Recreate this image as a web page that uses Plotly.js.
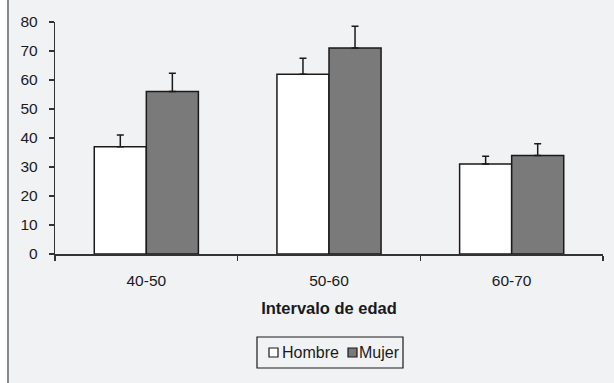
<!DOCTYPE html>
<html><head><meta charset="utf-8">
<script src="https://cdn.plot.ly/plotly-3.0.1.min.js"></script>
<style>
html,body{margin:0;padding:0;background:#ffffff;}
#wrap{margin-left:7px;border-left:2px solid #8a8a8a;width:605px;height:383px;}
#chart{width:605px;height:383px;}
</style></head>
<body><div id="wrap"><div id="chart"></div></div>
<script>
var categories = ["40-50", "50-60", "60-70"];
var hombreName = "Hombre";
var mujerName = "Mujer";
var hombreValues = [37, 62, 31];
var hombreErrors = [4, 5.5, 2.7];
var mujerValues = [56, 71, 34];
var mujerErrors = [6.3, 7.5, 4];
var yTicks = [0, 10, 20, 30, 40, 50, 60, 70, 80];
var xTitle = "Intervalo de edad";

var zeros = function(a){ return a.map(function(){ return 0; }); };
var fam = "Liberation Sans, Arial, sans-serif";
var font = {family: fam, size: 15.5, color: "#1a1a1a"};
var titleFont = {family: fam, size: 16.5, color: "#1a1a1a"};
var legendFont = {family: fam, size: 16, color: "#1a1a1a"};

var traces = [
  {type: "bar", name: hombreName, x: categories, y: hombreValues,
   marker: {color: "#ffffff", line: {color: "#1a1a1a", width: 1.5}},
   error_y: {type: "data", symmetric: false, array: hombreErrors, arrayminus: zeros(hombreErrors),
             color: "#1a1a1a", thickness: 1.5, width: 3.5},
   showlegend: false},
  {type: "bar", name: mujerName, x: categories, y: mujerValues,
   marker: {color: "#7a7a7a", line: {color: "#1a1a1a", width: 1.5}},
   error_y: {type: "data", symmetric: false, array: mujerErrors, arrayminus: zeros(mujerErrors),
             color: "#1a1a1a", thickness: 1.5, width: 3.5},
   showlegend: false}
];

function px(x){ return (x - 55) / 548; }
function py(y){ return (254 - y) / 232; }

var layout = {
  width: 605, height: 383,
  margin: {l: 46, r: 11, t: 22, b: 129},
  paper_bgcolor: "#f1f2f4", plot_bgcolor: "#f1f2f4",
  barmode: "group", bargap: 0.43, bargroupgap: 0,
  font: font,
  showlegend: false,
  xaxis: {
    type: "category", showline: true, linecolor: "#333", linewidth: 1.5,
    ticks: "outside", tickson: "boundaries", ticklen: 5, tickcolor: "#333", tickwidth: 1.2,
    tickfont: font, ticklabelstandoff: 12,
    title: {text: "<b>" + xTitle + "</b>", font: titleFont, standoff: 14},
    automargin: false, showgrid: false, zeroline: false
  },
  yaxis: {
    range: [0, 80], tickvals: yTicks, showline: true, linecolor: "#333", linewidth: 1.2,
    ticks: "outside", ticklen: 5, tickcolor: "#333", tickwidth: 1.2,
    tickfont: font, ticklabelstandoff: 8,
    showgrid: false, zeroline: false, automargin: false
  },
  shapes: [
    {type: "rect", xref: "paper", yref: "paper", x0: px(257), x1: px(403), y0: py(368), y1: py(337),
     line: {color: "#1a1a1a", width: 1.2}, fillcolor: "rgba(0,0,0,0)"},
    {type: "rect", xref: "paper", yref: "paper", x0: px(269), x1: px(278), y0: py(357), y1: py(348),
     line: {color: "#1a1a1a", width: 1.2}, fillcolor: "#ffffff"},
    {type: "rect", xref: "paper", yref: "paper", x0: px(348), x1: px(357), y0: py(357), y1: py(348),
     line: {color: "#1a1a1a", width: 1.2}, fillcolor: "#7a7a7a"}
  ],
  annotations: [
    {xref: "paper", yref: "paper", x: px(280), y: py(352.5), xanchor: "left", yanchor: "middle",
     text: hombreName, showarrow: false, font: legendFont},
    {xref: "paper", yref: "paper", x: px(357), y: py(352.5), xanchor: "left", yanchor: "middle",
     text: mujerName, showarrow: false, font: legendFont}
  ]
};

Plotly.newPlot("chart", traces, layout, {displayModeBar: false, staticPlot: true});
</script></body></html>
